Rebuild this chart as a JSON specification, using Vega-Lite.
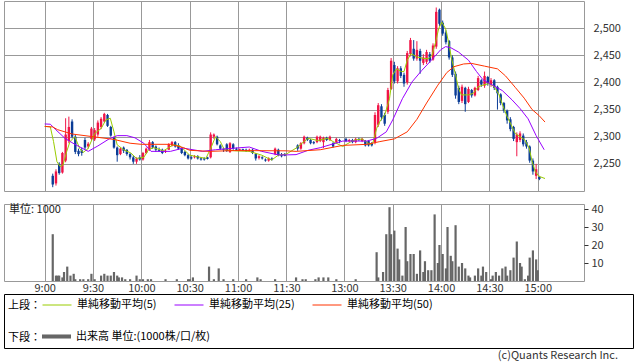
{
  "$schema": "https://vega.github.io/schema/vega-lite/v6.json",
  "background": "white",
  "padding": {"left": 3, "top": 0, "right": 0, "bottom": 0},
  "autosize": {"type": "pad"},
  "config": {
    "font": "Noto Sans CJK JP",
    "view": {"stroke": "#999", "strokeWidth": 1},
    "axis": {"labelFont": "Noto Sans CJK JP", "labelFontSize": 11, "labelColor": "#333", "gridColor": "#999", "gridWidth": 1, "gridOpacity": 1, "domain": false},
    "title": {"font": "Noto Sans CJK JP", "fontSize": 11, "fontWeight": "normal", "color": "#333"},
    "legend": {"labelFont": "Noto Sans CJK JP", "titleFont": "Noto Sans CJK JP"}
  },
  "datasets": {
    "candles": [
      {"t":5,"o":2228,"h":2232,"l":2207,"c":2212},{"t":7,"o":2214,"h":2240,"l":2210,"c":2236},{"t":9,"o":2250,"h":2253,"l":2230,"c":2233},{"t":11,"o":2234,"h":2272,"l":2232,"c":2270},{"t":13,"o":2256,"h":2334,"l":2253,"c":2304},{"t":15,"o":2292,"h":2337,"l":2288,"c":2318},{"t":17,"o":2328,"h":2332,"l":2297,"c":2300},{"t":19,"o":2300,"h":2304,"l":2268,"c":2272},{"t":21,"o":2274,"h":2278,"l":2264,"c":2268},{"t":23,"o":2275,"h":2280,"l":2265,"c":2270},{"t":25,"o":2294,"h":2298,"l":2276,"c":2280},{"t":27,"o":2282,"h":2290,"l":2278,"c":2287},{"t":29,"o":2296,"h":2318,"l":2294,"c":2315},{"t":31,"o":2295,"h":2316,"l":2292,"c":2312},{"t":33,"o":2304,"h":2330,"l":2300,"c":2326},{"t":35,"o":2318,"h":2336,"l":2314,"c":2333},{"t":37,"o":2328,"h":2344,"l":2326,"c":2342},{"t":39,"o":2340,"h":2342,"l":2318,"c":2320},{"t":41,"o":2318,"h":2320,"l":2300,"c":2302},{"t":43,"o":2298,"h":2300,"l":2278,"c":2280},{"t":45,"o":2280,"h":2282,"l":2254,"c":2266},{"t":47,"o":2268,"h":2280,"l":2266,"c":2278},{"t":49,"o":2280,"h":2282,"l":2270,"c":2274},{"t":51,"o":2276,"h":2277,"l":2265,"c":2268},{"t":53,"o":2268,"h":2270,"l":2258,"c":2262},{"t":55,"o":2262,"h":2266,"l":2250,"c":2254},{"t":57,"o":2254,"h":2262,"l":2250,"c":2260},{"t":59,"o":2262,"h":2266,"l":2256,"c":2258},{"t":61,"o":2258,"h":2272,"l":2256,"c":2270},{"t":63,"o":2270,"h":2280,"l":2268,"c":2278},{"t":65,"o":2276,"h":2294,"l":2274,"c":2290},{"t":67,"o":2290,"h":2292,"l":2278,"c":2280},{"t":69,"o":2282,"h":2284,"l":2272,"c":2276},{"t":71,"o":2276,"h":2280,"l":2272,"c":2274},{"t":73,"o":2276,"h":2278,"l":2268,"c":2270},{"t":75,"o":2272,"h":2276,"l":2270,"c":2274},{"t":77,"o":2276,"h":2288,"l":2276,"c":2286},{"t":79,"o":2284,"h":2292,"l":2282,"c":2290},{"t":81,"o":2290,"h":2292,"l":2280,"c":2282},{"t":83,"o":2284,"h":2288,"l":2276,"c":2278},{"t":85,"o":2280,"h":2281,"l":2268,"c":2270},{"t":87,"o":2272,"h":2274,"l":2264,"c":2266},{"t":89,"o":2266,"h":2268,"l":2258,"c":2260},{"t":91,"o":2262,"h":2264,"l":2258,"c":2260},{"t":93,"o":2262,"h":2266,"l":2260,"c":2264},{"t":95,"o":2264,"h":2266,"l":2258,"c":2260},{"t":97,"o":2260,"h":2262,"l":2256,"c":2258},{"t":99,"o":2260,"h":2262,"l":2256,"c":2258},{"t":101,"o":2262,"h":2263,"l":2258,"c":2259},{"t":103,"o":2262,"h":2308,"l":2260,"c":2304},{"t":105,"o":2300,"h":2306,"l":2296,"c":2304},{"t":107,"o":2300,"h":2302,"l":2284,"c":2286},{"t":109,"o":2284,"h":2286,"l":2276,"c":2278},{"t":111,"o":2278,"h":2280,"l":2272,"c":2276},{"t":113,"o":2286,"h":2288,"l":2272,"c":2274},{"t":115,"o":2272,"h":2290,"l":2270,"c":2288},{"t":117,"o":2286,"h":2288,"l":2276,"c":2278},{"t":119,"o":2278,"h":2280,"l":2274,"c":2276},{"t":121,"o":2275,"h":2278,"l":2274,"c":2277},{"t":123,"o":2277,"h":2278,"l":2274,"c":2275},{"t":125,"o":2276,"h":2278,"l":2272,"c":2274},{"t":127,"o":2274,"h":2278,"l":2272,"c":2276},{"t":129,"o":2276,"h":2278,"l":2268,"c":2270},{"t":131,"o":2268,"h":2270,"l":2256,"c":2260},{"t":133,"o":2261,"h":2266,"l":2258,"c":2264},{"t":135,"o":2262,"h":2264,"l":2258,"c":2260},{"t":137,"o":2258,"h":2260,"l":2254,"c":2256},{"t":139,"o":2256,"h":2262,"l":2254,"c":2260},{"t":141,"o":2260,"h":2262,"l":2256,"c":2258},{"t":143,"o":2268,"h":2280,"l":2266,"c":2278},{"t":145,"o":2276,"h":2278,"l":2264,"c":2266},{"t":147,"o":2266,"h":2270,"l":2262,"c":2264},{"t":149,"o":2267,"h":2270,"l":2264,"c":2265},
      {"t":157,"o":2284,"h":2286,"l":2274,"c":2278},{"t":159,"o":2278,"h":2290,"l":2276,"c":2288},{"t":161,"o":2288,"h":2302,"l":2286,"c":2300},{"t":163,"o":2298,"h":2300,"l":2292,"c":2294},{"t":165,"o":2294,"h":2296,"l":2286,"c":2288},{"t":167,"o":2290,"h":2292,"l":2286,"c":2288},{"t":169,"o":2290,"h":2302,"l":2288,"c":2300},{"t":171,"o":2292,"h":2302,"l":2290,"c":2300},{"t":173,"o":2290,"h":2300,"l":2279,"c":2298},{"t":175,"o":2298,"h":2300,"l":2292,"c":2294},{"t":177,"o":2294,"h":2302,"l":2292,"c":2300},{"t":179,"o":2288,"h":2290,"l":2280,"c":2282},{"t":181,"o":2290,"h":2298,"l":2288,"c":2296},{"t":183,"o":2294,"h":2296,"l":2288,"c":2292},{"t":187,"o":2296,"h":2298,"l":2290,"c":2292},{"t":189,"o":2292,"h":2296,"l":2290,"c":2294},{"t":191,"o":2294,"h":2296,"l":2288,"c":2290},{"t":193,"o":2290,"h":2298,"l":2288,"c":2296},{"t":195,"o":2296,"h":2298,"l":2292,"c":2294},{"t":197,"o":2292,"h":2298,"l":2290,"c":2296},{"t":199,"o":2292,"h":2294,"l":2282,"c":2284},{"t":201,"o":2292,"h":2294,"l":2282,"c":2284},{"t":203,"o":2288,"h":2290,"l":2282,"c":2284},{"t":205,"o":2290,"h":2345,"l":2286,"c":2340},{"t":207,"o":2322,"h":2362,"l":2318,"c":2358},{"t":209,"o":2356,"h":2360,"l":2330,"c":2336},{"t":211,"o":2340,"h":2344,"l":2320,"c":2324},{"t":213,"o":2346,"h":2390,"l":2342,"c":2386},{"t":215,"o":2388,"h":2445,"l":2386,"c":2440},{"t":217,"o":2432,"h":2438,"l":2398,"c":2402},{"t":219,"o":2402,"h":2430,"l":2398,"c":2426},{"t":221,"o":2426,"h":2430,"l":2408,"c":2412},{"t":223,"o":2414,"h":2418,"l":2392,"c":2398},{"t":225,"o":2400,"h":2458,"l":2396,"c":2454},{"t":227,"o":2452,"h":2482,"l":2448,"c":2478},{"t":229,"o":2462,"h":2478,"l":2440,"c":2444},{"t":231,"o":2444,"h":2476,"l":2440,"c":2460},{"t":233,"o":2458,"h":2462,"l":2416,"c":2440},{"t":235,"o":2436,"h":2452,"l":2432,"c":2446},{"t":237,"o":2438,"h":2460,"l":2434,"c":2456},{"t":239,"o":2452,"h":2456,"l":2436,"c":2440},{"t":241,"o":2442,"h":2472,"l":2440,"c":2468},{"t":243,"o":2466,"h":2538,"l":2462,"c":2530},{"t":245,"o":2534,"h":2536,"l":2504,"c":2508},{"t":247,"o":2510,"h":2514,"l":2486,"c":2490},{"t":249,"o":2492,"h":2496,"l":2470,"c":2474},{"t":251,"o":2476,"h":2478,"l":2442,"c":2446},{"t":253,"o":2446,"h":2450,"l":2410,"c":2414},{"t":255,"o":2416,"h":2420,"l":2370,"c":2376},{"t":257,"o":2390,"h":2394,"l":2360,"c":2364},{"t":259,"o":2366,"h":2396,"l":2362,"c":2392},{"t":261,"o":2390,"h":2392,"l":2346,"c":2360},{"t":263,"o":2364,"h":2392,"l":2362,"c":2388},{"t":265,"o":2386,"h":2388,"l":2372,"c":2376},{"t":267,"o":2376,"h":2392,"l":2374,"c":2390},{"t":269,"o":2386,"h":2412,"l":2384,"c":2408},{"t":271,"o":2404,"h":2406,"l":2392,"c":2396},{"t":273,"o":2394,"h":2420,"l":2390,"c":2412},{"t":275,"o":2410,"h":2412,"l":2394,"c":2398},{"t":277,"o":2396,"h":2408,"l":2392,"c":2404},{"t":279,"o":2404,"h":2406,"l":2386,"c":2390},{"t":281,"o":2392,"h":2394,"l":2350,"c":2380},{"t":283,"o":2378,"h":2380,"l":2358,"c":2362},{"t":285,"o":2362,"h":2364,"l":2344,"c":2348},{"t":287,"o":2348,"h":2350,"l":2324,"c":2330},{"t":289,"o":2332,"h":2336,"l":2310,"c":2314},{"t":291,"o":2318,"h":2320,"l":2292,"c":2296},{"t":293,"o":2290,"h":2308,"l":2264,"c":2304},{"t":295,"o":2294,"h":2310,"l":2290,"c":2306},{"t":297,"o":2302,"h":2306,"l":2282,"c":2286},{"t":299,"o":2290,"h":2294,"l":2278,"c":2282},{"t":301,"o":2282,"h":2284,"l":2252,"c":2256},{"t":303,"o":2256,"h":2260,"l":2230,"c":2236},{"t":305,"o":2228,"h":2250,"l":2222,"c":2240},{"t":307,"o":2226,"h":2228,"l":2220,"c":2222}
    ],
    "ma": [
      {"t":0,"s":"5","v":2319},{"t":3.5,"s":"5","v":2318},{"t":5.5,"s":"5","v":2291},{"t":7.6,"s":"5","v":2254},{"t":9.6,"s":"5","v":2245},{"t":11.4,"s":"5","v":2248},{"t":13.7,"s":"5","v":2273},{"t":15.7,"s":"5","v":2291},{"t":18.7,"s":"5","v":2300},{"t":21.8,"s":"5","v":2278},{"t":23.8,"s":"5","v":2271},{"t":26.9,"s":"5","v":2278},{"t":31,"s":"5","v":2306},{"t":35,"s":"5","v":2315},{"t":38,"s":"5","v":2331},{"t":40.7,"s":"5","v":2334},{"t":43,"s":"5","v":2309},{"t":45,"s":"5","v":2285},{"t":49,"s":"5","v":2276},{"t":53.5,"s":"5","v":2270},{"t":57,"s":"5","v":2260},{"t":61.5,"s":"5","v":2262},{"t":64.5,"s":"5","v":2276},{"t":67.6,"s":"5","v":2280},{"t":73.7,"s":"5","v":2274},{"t":79.8,"s":"5","v":2285},{"t":84,"s":"5","v":2283},{"t":90,"s":"5","v":2266},{"t":100,"s":"5","v":2260},{"t":103,"s":"5","v":2278},{"t":106,"s":"5","v":2300},{"t":109,"s":"5","v":2291},{"t":111.5,"s":"5","v":2276},{"t":118,"s":"5","v":2274},{"t":127,"s":"5","v":2273},{"t":134.7,"s":"5","v":2266},{"t":140.8,"s":"5","v":2257},{"t":145,"s":"5","v":2266},{"t":150,"s":"5","v":2268},{"t":156,"s":"5","v":2279},{"t":163.4,"s":"5","v":2297},{"t":169.5,"s":"5","v":2293},{"t":175.6,"s":"5","v":2297},{"t":179,"s":"5","v":2291},{"t":185,"s":"5","v":2282},{"t":191.4,"s":"5","v":2293},{"t":197,"s":"5","v":2296},{"t":201.8,"s":"5","v":2286},{"t":203.6,"s":"5","v":2288},{"t":206,"s":"5","v":2315},{"t":208,"s":"5","v":2328},{"t":211,"s":"5","v":2340},{"t":214,"s":"5","v":2370},{"t":216,"s":"5","v":2414},{"t":218.3,"s":"5","v":2425},{"t":221.3,"s":"5","v":2420},{"t":223,"s":"5","v":2420},{"t":225,"s":"5","v":2441},{"t":227.4,"s":"5","v":2453},{"t":231,"s":"5","v":2447},{"t":235.4,"s":"5","v":2444},{"t":238.4,"s":"5","v":2444},{"t":240.3,"s":"5","v":2450},{"t":242.7,"s":"5","v":2475},{"t":244.5,"s":"5","v":2499},{"t":246.4,"s":"5","v":2511},{"t":248.8,"s":"5","v":2499},{"t":250.6,"s":"5","v":2475},{"t":252.5,"s":"5","v":2444},{"t":255,"s":"5","v":2414},{"t":256.8,"s":"5","v":2389},{"t":258.6,"s":"5","v":2377},{"t":263,"s":"5","v":2377},{"t":266,"s":"5","v":2380},{"t":269,"s":"5","v":2392},{"t":272,"s":"5","v":2395},{"t":276,"s":"5","v":2398},{"t":279,"s":"5","v":2392},{"t":282,"s":"5","v":2377},{"t":285,"s":"5","v":2352},{"t":287,"s":"5","v":2337},{"t":289,"s":"5","v":2325},{"t":292,"s":"5","v":2306},{"t":295,"s":"5","v":2300},{"t":298,"s":"5","v":2294},{"t":300.7,"s":"5","v":2279},{"t":302.5,"s":"5","v":2254},{"t":304.4,"s":"5","v":2236},{"t":306.8,"s":"5","v":2227},{"t":310.5,"s":"5","v":2223},
      {"t":0,"s":"25","v":2323.5},{"t":3.5,"s":"25","v":2323},{"t":6.5,"s":"25","v":2314},{"t":12.6,"s":"25","v":2297},{"t":18.7,"s":"25","v":2286},{"t":27,"s":"25","v":2273},{"t":33,"s":"25","v":2283},{"t":40,"s":"25","v":2296},{"t":45,"s":"25","v":2302},{"t":51,"s":"25","v":2302},{"t":56,"s":"25","v":2298},{"t":61.5,"s":"25","v":2288},{"t":66,"s":"25","v":2273},{"t":78,"s":"25","v":2273},{"t":86,"s":"25","v":2279},{"t":98,"s":"25","v":2273},{"t":106,"s":"25","v":2276},{"t":118,"s":"25","v":2279},{"t":127,"s":"25","v":2281},{"t":134.7,"s":"25","v":2273},{"t":145,"s":"25","v":2266.5},{"t":150,"s":"25","v":2266.5},{"t":156,"s":"25","v":2267},{"t":163.5,"s":"25","v":2275},{"t":171.3,"s":"25","v":2280},{"t":185,"s":"25","v":2292},{"t":200,"s":"25","v":2292},{"t":206,"s":"25","v":2297},{"t":212,"s":"25","v":2309},{"t":216,"s":"25","v":2331},{"t":222,"s":"25","v":2370},{"t":228,"s":"25","v":2401},{"t":234,"s":"25","v":2422},{"t":240,"s":"25","v":2441},{"t":245.7,"s":"25","v":2460},{"t":248.8,"s":"25","v":2466},{"t":252,"s":"25","v":2464},{"t":256.8,"s":"25","v":2456},{"t":263,"s":"25","v":2441},{"t":268,"s":"25","v":2420},{"t":272,"s":"25","v":2405},{"t":278,"s":"25","v":2395},{"t":284,"s":"25","v":2385},{"t":290,"s":"25","v":2368},{"t":295,"s":"25","v":2352},{"t":300,"s":"25","v":2333},{"t":305,"s":"25","v":2302},{"t":310,"s":"25","v":2276},
      {"t":0,"s":"50","v":2319},{"t":5,"s":"50","v":2318},{"t":8,"s":"50","v":2313},{"t":17,"s":"50","v":2305},{"t":30,"s":"50","v":2300},{"t":43,"s":"50","v":2295},{"t":53,"s":"50","v":2288},{"t":60,"s":"50","v":2286},{"t":78,"s":"50","v":2286},{"t":86,"s":"50","v":2280},{"t":90,"s":"50","v":2275},{"t":102,"s":"50","v":2273},{"t":118,"s":"50","v":2274.5},{"t":150,"s":"50","v":2274},{"t":156,"s":"50","v":2273},{"t":171,"s":"50","v":2276},{"t":185,"s":"50","v":2284},{"t":200,"s":"50","v":2286},{"t":208,"s":"50","v":2291},{"t":217,"s":"50","v":2296},{"t":225,"s":"50","v":2309},{"t":231,"s":"50","v":2332},{"t":237,"s":"50","v":2362},{"t":244,"s":"50","v":2395},{"t":249.5,"s":"50","v":2418},{"t":254,"s":"50","v":2429},{"t":260,"s":"50","v":2434},{"t":265,"s":"50","v":2435},{"t":273,"s":"50","v":2430},{"t":281,"s":"50","v":2425},{"t":286,"s":"50","v":2412},{"t":292,"s":"50","v":2391},{"t":297.6,"s":"50","v":2371},{"t":302.5,"s":"50","v":2350},{"t":306.8,"s":"50","v":2339},{"t":310.5,"s":"50","v":2327}
    ],
    "vol": [
      {"t":5,"v":26},{"t":7,"v":3},{"t":8,"v":3},{"t":9,"v":3},{"t":11,"v":2},{"t":12,"v":5},{"t":14,"v":8},{"t":16,"v":3},{"t":18,"v":4},{"t":19,"v":1},{"t":22,"v":1},{"t":24,"v":1},{"t":27,"v":1},{"t":29,"v":4},{"t":31,"v":1},{"t":35,"v":3},{"t":37,"v":4},{"t":39,"v":3},{"t":41,"v":3},{"t":43,"v":5},{"t":45,"v":3},{"t":46,"v":2},{"t":48,"v":2},{"t":50,"v":1},{"t":53,"v":1},{"t":57,"v":3},{"t":59,"v":1},{"t":61,"v":1},{"t":64,"v":1},{"t":66,"v":1},{"t":75,"v":1},{"t":82,"v":1},{"t":89,"v":1},{"t":90,"v":1},{"t":92,"v":2},{"t":102,"v":8},{"t":105,"v":1},{"t":108,"v":7},{"t":111,"v":1},{"t":117,"v":1},{"t":125,"v":1},{"t":132,"v":2},{"t":134,"v":1},{"t":143,"v":1},
      {"t":156,"v":2},{"t":160,"v":1},{"t":162,"v":1},{"t":168,"v":1},{"t":170,"v":2},{"t":173,"v":2},{"t":176,"v":2},{"t":181,"v":1},{"t":193,"v":1},{"t":206,"v":16},{"t":207,"v":2},{"t":210,"v":5},{"t":212,"v":26},{"t":214,"v":41},{"t":215,"v":26},{"t":217,"v":28},{"t":219,"v":18},{"t":220,"v":12},{"t":222,"v":3},{"t":224,"v":30},{"t":225,"v":11},{"t":227,"v":15},{"t":229,"v":15},{"t":231,"v":4},{"t":233,"v":17},{"t":235,"v":5},{"t":236,"v":11},{"t":238,"v":6},{"t":240,"v":6},{"t":242,"v":37},{"t":244,"v":10},{"t":245,"v":20},{"t":247,"v":15},{"t":249,"v":7},{"t":250,"v":30},{"t":252,"v":14},{"t":253,"v":11},{"t":255,"v":31},{"t":257,"v":8},{"t":259,"v":10},{"t":261,"v":7},{"t":263,"v":3},{"t":264,"v":2},{"t":267,"v":3},{"t":269,"v":7},{"t":271,"v":3},{"t":272,"v":8},{"t":274,"v":5},{"t":277,"v":1},{"t":278,"v":3},{"t":280,"v":5},{"t":282,"v":3},{"t":284,"v":7},{"t":286,"v":8},{"t":287,"v":3},{"t":289,"v":6},{"t":291,"v":13},{"t":293,"v":22},{"t":295,"v":10},{"t":296,"v":8},{"t":298,"v":1},{"t":300,"v":3},{"t":301,"v":13},{"t":303,"v":17},{"t":305,"v":12},{"t":306,"v":6}
    ]
  },
  "bounds": "flush",
  "spacing": 13,
  "vconcat": [
    {
      "width": 580,
      "height": 190,
      "layer": [
        {
          "data": {"name": "candles"},
          "mark": {"type": "rule", "strokeWidth": 1},
          "encoding": {
            "x": {"field": "t", "type": "quantitative", "title": null, "scale": {"domain": [-22.15, 331.6], "nice": false, "zero": false}, "axis": {"values": [0, 30, 60, 90, 120, 150, 186, 216, 246, 276, 306], "labels": false, "ticks": false, "grid": true, "title": null}},
            "y": {"field": "l", "type": "quantitative", "title": null, "scale": {"domain": [2200, 2550], "nice": false, "zero": false}, "axis": {"orient": "right", "values": [2250, 2300, 2350, 2400, 2450, 2500], "format": ",d", "grid": true, "ticks": false, "labelPadding": 9, "title": null}},
            "y2": {"field": "h"},
            "color": {"condition": {"test": "datum.c >= datum.o", "value": "#f01446"}, "value": "#0a3c96"}
          }
        },
        {
          "data": {"name": "candles"},
          "mark": {"type": "bar", "size": 2.4, "orient": "vertical"},
          "encoding": {
            "x": {"field": "t", "type": "quantitative", "title": null, "axis": {"values": [0, 30, 60, 90, 120, 150, 186, 216, 246, 276, 306], "labels": false, "ticks": false, "grid": true, "title": null}},
            "y": {"field": "o", "type": "quantitative", "title": null, "axis": {"orient": "right", "values": [2250, 2300, 2350, 2400, 2450, 2500], "format": ",d", "grid": true, "ticks": false, "labelPadding": 9, "title": null}},
            "y2": {"field": "c"},
            "color": {"condition": {"test": "datum.c >= datum.o", "value": "#f01446"}, "value": "#0a3c96"}
          }
        },
        {
          "data": {"name": "ma"},
          "mark": {"type": "line", "strokeWidth": 1},
          "encoding": {
            "x": {"field": "t", "type": "quantitative", "title": null, "axis": {"values": [0, 30, 60, 90, 120, 150, 186, 216, 246, 276, 306], "labels": false, "ticks": false, "grid": true, "title": null}},
            "y": {"field": "v", "type": "quantitative", "title": null, "axis": {"orient": "right", "values": [2250, 2300, 2350, 2400, 2450, 2500], "format": ",d", "grid": true, "ticks": false, "labelPadding": 9, "title": null}},
            "color": {"field": "s", "type": "nominal", "scale": {"domain": ["50", "25", "5"], "range": ["#ff3300", "#9900ff", "#99cc00"]}, "legend": null}
          }
        }
      ]
    },
    {
      "width": 580,
      "height": 77,
      "data": {"name": "vol"},
      "title": {"text": "単位: 1000", "anchor": "start", "orient": "top", "offset": -12, "dx": 5, "color": "#222"},
      "mark": {"type": "bar", "size": 2.2, "color": "#666666", "orient": "vertical"},
      "encoding": {
        "x": {"field": "t", "type": "quantitative", "title": null, "scale": {"domain": [-22.15, 331.6], "nice": false, "zero": false}, "axis": {"values": [0, 30, 60, 90, 120, 150, 186, 216, 246, 276, 306], "labelExpr": "['9:00','9:30','10:00','10:30','11:00','11:30','13:00','13:30','14:00','14:30','15:00'][indexof([0,30,60,90,120,150,186,216,246,276,306], datum.value)]", "ticks": false, "labelPadding": 1, "grid": true, "labelFlush": false, "labelOverlap": false, "title": null}},
        "y": {"field": "v", "type": "quantitative", "title": null, "scale": {"domain": [0, 42.78], "nice": false}, "axis": {"orient": "right", "values": [10, 20, 30, 40], "grid": false, "ticks": true, "tickSize": 4, "tickColor": "#333", "labelPadding": 3, "title": null}}
      }
    },
    {
      "width": 629,
      "height": 54,
      "view": {"stroke": "#000"},
      "title": {"text": "(c)Quants Research Inc.", "orient": "bottom", "anchor": "end", "offset": 2, "dx": -15, "color": "#333"},
      "layer": [
        {
          "data": {"values": []},
          "mark": {"type": "line", "strokeWidth": 1},
          "encoding": {
            "stroke": {"field": "s", "type": "nominal", "scale": {"domain": ["5", "25", "50"], "range": ["#99cc00", "#9900ff", "#ff3300"]},
              "legend": {"orient": "none", "legendX": 4, "legendY": 289, "direction": "horizontal", "gridAlign": "none", "title": "上段：", "titleOrient": "left", "titleAnchor": "middle", "titleBaseline": "top", "titleFontSize": 11, "titleFontWeight": "normal", "titleColor": "#000", "titlePadding": 1, "symbolType": "stroke", "symbolSize": 841, "symbolStrokeWidth": 1, "labelFontSize": 11, "labelColor": "#000", "labelOffset": 5, "columnPadding": 15, "labelLimit": 300, "labelExpr": "'単純移動平均(' + datum.label + ')'"}}
          }
        },
        {
          "data": {"values": []},
          "mark": {"type": "bar"},
          "encoding": {
            "fill": {"field": "k", "type": "nominal", "scale": {"domain": ["出来高 単位:(1000株/口/枚)"], "range": ["#666666"]},
              "legend": {"orient": "none", "legendX": 4, "legendY": 321, "direction": "horizontal", "title": "下段：", "titleOrient": "left", "titleAnchor": "middle", "titleBaseline": "top", "titleFontSize": 11, "titleFontWeight": "normal", "titleColor": "#000", "titlePadding": 1, "symbolType": "M-1,-0.14H1V0.14H-1Z", "symbolSize": 841, "symbolStrokeWidth": 0, "labelFontSize": 11, "labelColor": "#000", "labelOffset": 5, "labelLimit": 300}}
          }
        }
      ]
    }
  ]
}
